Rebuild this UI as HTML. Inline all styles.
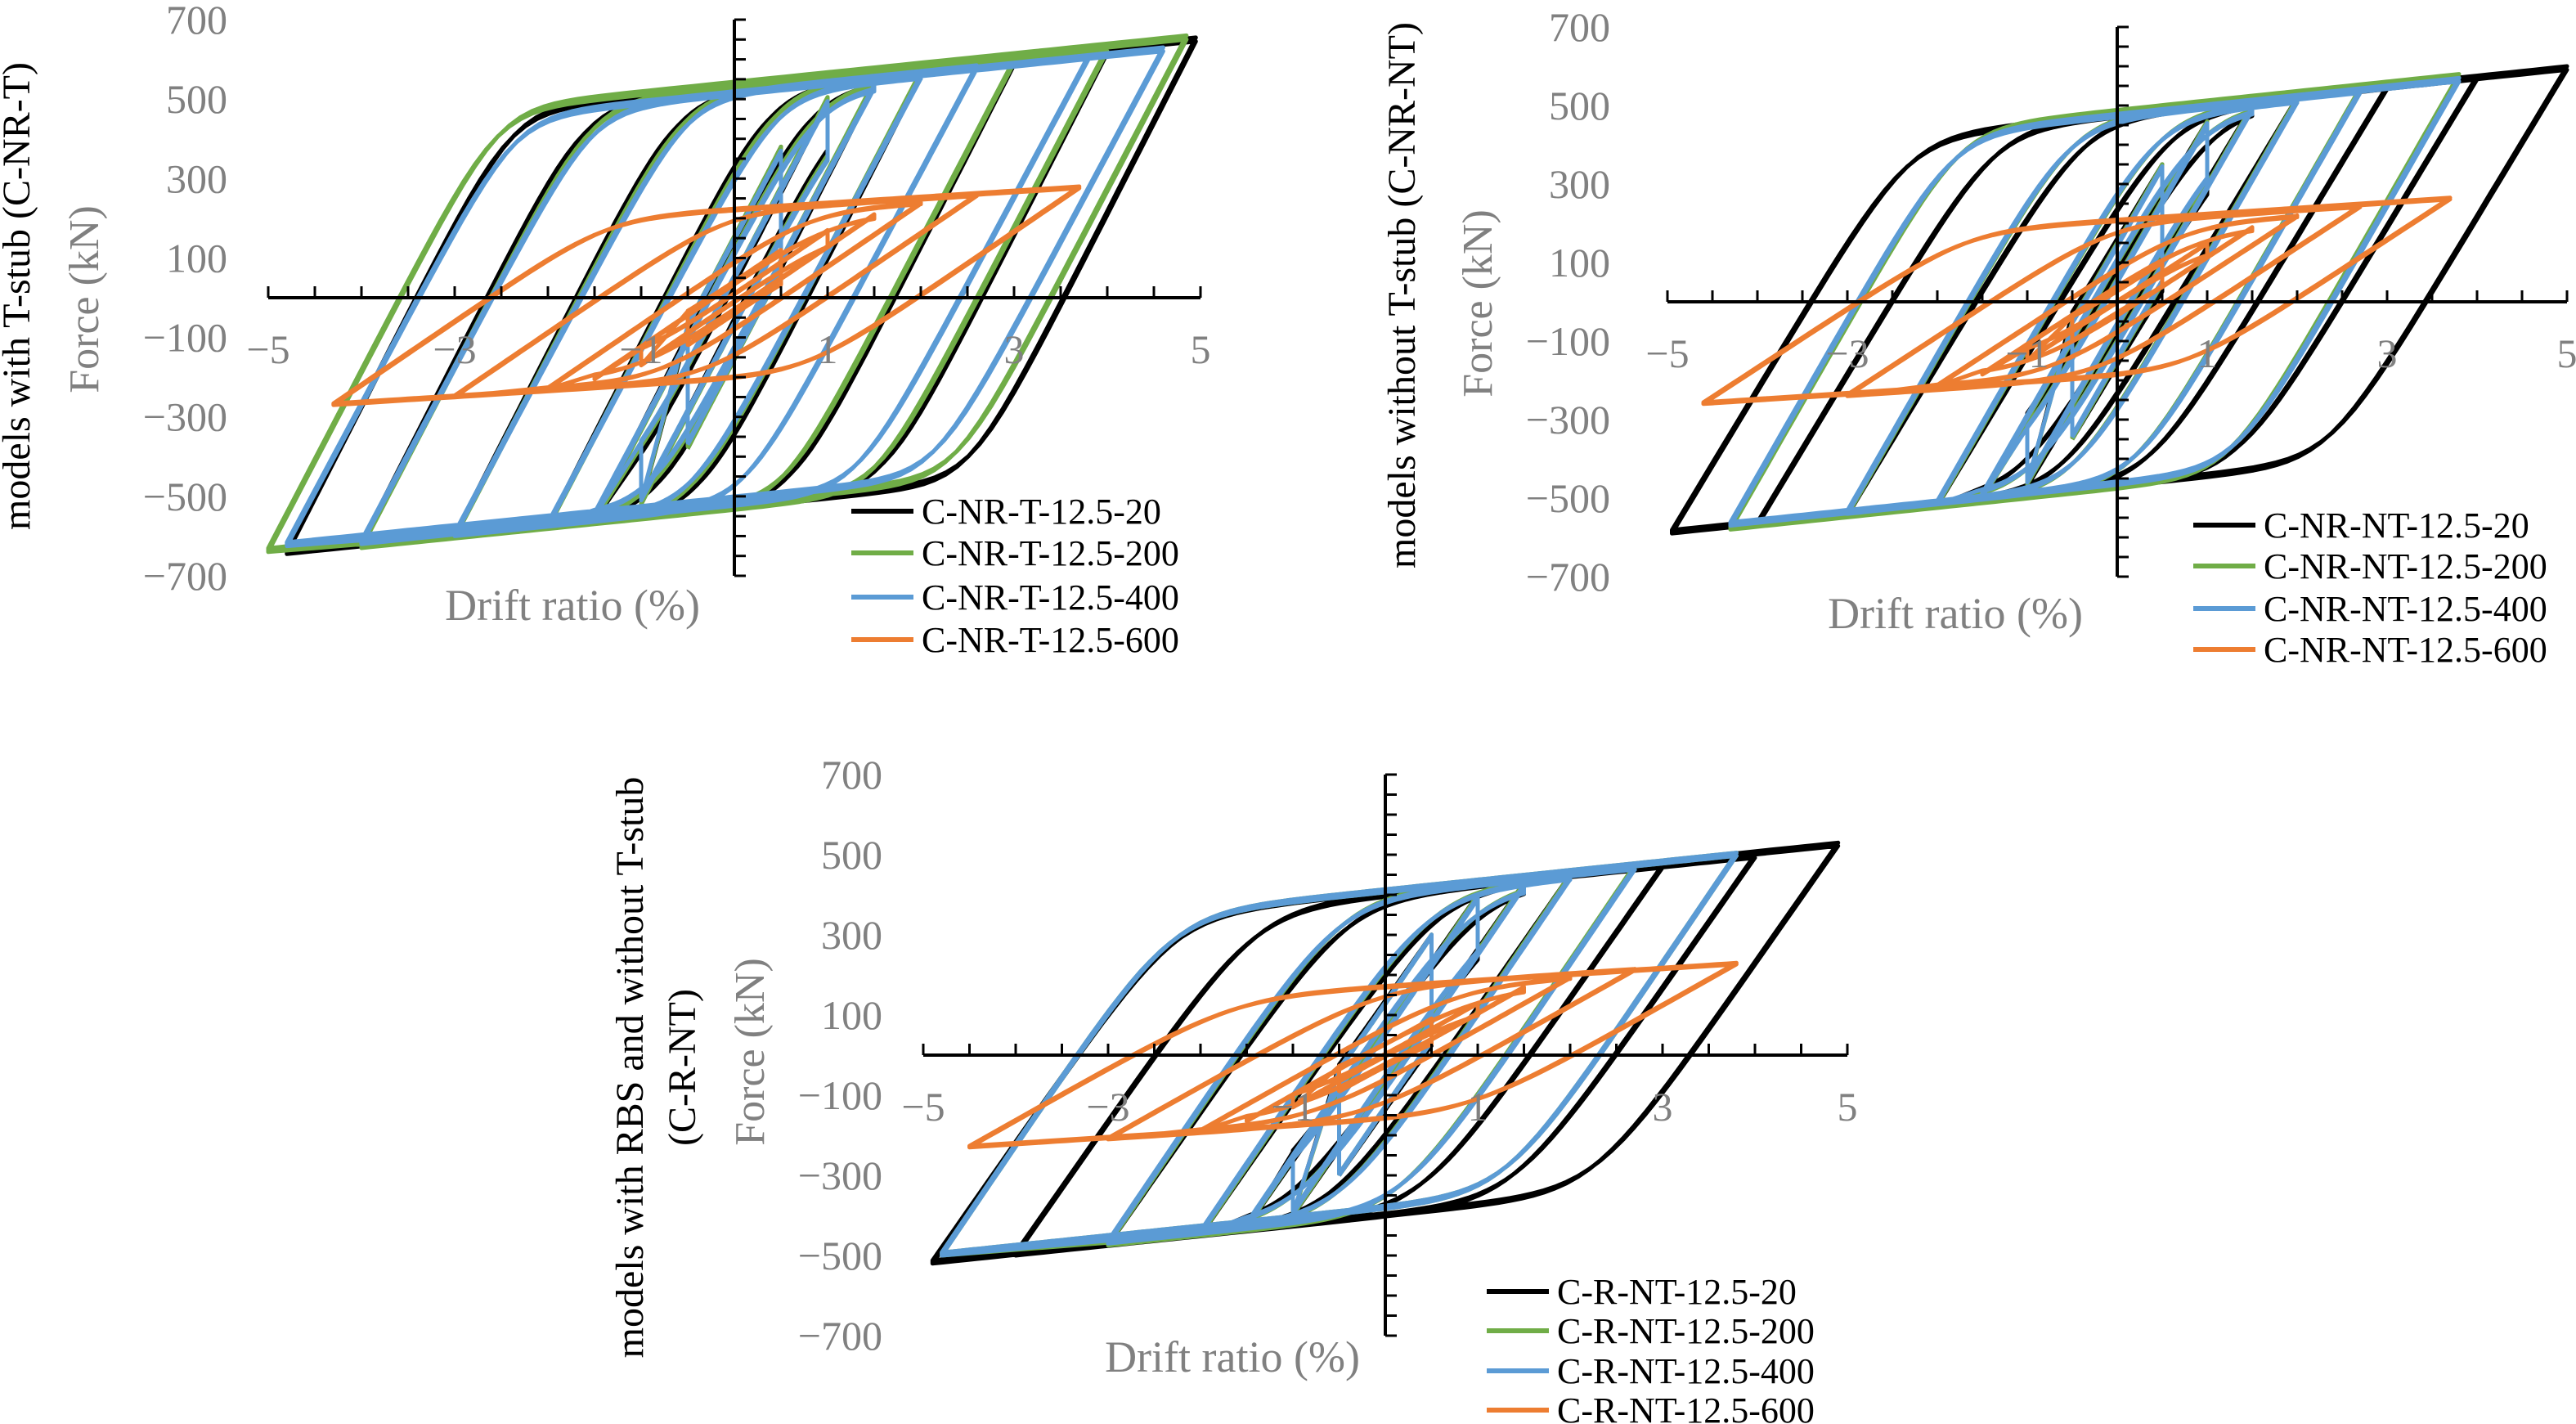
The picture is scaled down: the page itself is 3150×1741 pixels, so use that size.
<!DOCTYPE html>
<html><head><meta charset="utf-8">
<style>
html,body{margin:0;padding:0;background:#fff;}
svg{display:block;}
text{font-family:"Liberation Serif",serif;}
</style></head>
<body>
<svg id="fig" width="3150" height="1741" viewBox="0 0 3150 1741" xmlns="http://www.w3.org/2000/svg"></svg>
<script>
// ---------- data (drift %, force kN) ----------
const xTicks = [-5, -3, -1, 1, 3, 5];
const yTicks = [700, 500, 300, 100, -100, -300, -500, -700];

const c1Names = ["C-NR-T-12.5-20", "C-NR-T-12.5-200", "C-NR-T-12.5-400", "C-NR-T-12.5-600"];
const c1AmpPos = [[0.5,1,1.5,2,3,4,4.95],[0.5,1,1.5,2,3,4,4.85],[0.5,1,1.5,2,2.6,3.8,4.6],[0.5,1,1.5,2,2.6,3.7]];
const c1AmpNeg = [[0.5,1,1.5,2,3,4,4.8],[0.5,1,1.5,2,3,4,5],[0.5,1,1.5,2,3,4,4.8],[0.5,1,1.5,2,3,4.3]];
const c1ForPos = [[380,500,540,565,595,625,655],[380,505,545,570,600,630,660],[370,495,535,560,585,610,630],[120,170,210,240,260,280]];
const c1ForNeg = [[380,520,560,580,605,625,645],[380,520,560,580,605,630,640],[370,510,550,575,600,620,625],[120,170,205,230,250,270]];
const c1Stiff = [460, 450, 440, 160];

const c2Names = ["C-NR-NT-12.5-20", "C-NR-NT-12.5-200", "C-NR-NT-12.5-400", "C-NR-NT-12.5-600"];
const c2AmpPos = [[0.5,1,1.5,2,3,4,5],[0.5,1,1.5,2,2.7,3.8],[0.5,1,1.5,2,2.7,3.8],[0.5,1,1.5,2,2.7,3.7]];
const c2AmpNeg = [[0.5,1,1.5,2,3,4,4.95],[0.5,1,1.5,2,3,4.3],[0.5,1,1.5,2,3,4.3],[0.5,1,1.5,2,3,4.6]];
const c2ForPos = [[350,460,500,520,550,575,600],[350,460,500,520,545,580],[345,455,495,515,540,570],[100,150,190,220,245,265]];
const c2ForNeg = [[350,470,500,520,545,570,590],[350,465,500,520,545,580],[345,460,495,515,540,570],[100,150,185,215,240,260]];
const c2Stiff = [380, 400, 400, 150];

const c3Names = ["C-R-NT-12.5-20", "C-R-NT-12.5-200", "C-R-NT-12.5-400", "C-R-NT-12.5-600"];
const c3AmpPos = [[0.5,1,1.5,2,3,4,4.9],[0.5,1,1.5,2,2.7,3.8],[0.5,1,1.5,2,2.7,3.8],[0.5,1,1.5,2,2.7,3.8]];
const c3AmpNeg = [[0.5,1,1.5,2,3,4,4.9],[0.5,1,1.5,2,3,4.8],[0.5,1,1.5,2,3,4.8],[0.5,1,1.5,2,3,4.5]];
const c3ForPos = [[300,400,430,450,475,500,530],[300,400,430,450,475,505],[300,395,425,445,470,505],[90,130,170,195,215,230]];
const c3ForNeg = [[300,400,430,450,475,500,520],[300,400,430,450,475,500],[300,395,425,445,470,500],[90,130,165,190,210,230]];
const c3Stiff = [330, 340, 340, 130];

const colors = ["#000000", "#70ad47", "#5b9bd5", "#ed7d31"];
const NS = "http://www.w3.org/2000/svg";
const svg = document.getElementById("fig");

function mk(tag, attrs, parent){
  const e = document.createElementNS(NS, tag);
  for (const k in attrs) e.setAttribute(k, attrs[k]);
  (parent||svg).appendChild(e);
  return e;
}
function smin(a,b,s){const m=Math.min(a,b);return m - s*Math.log(1+Math.exp(-Math.abs(a-b)/s));}
function smax(a,b,s){return -smin(-a,-b,s);}

function drawChart(cfg, names, ampP, ampN, forP, forN, stiff){
  const g = mk("g", {});
  
  
  const X = v => cfg.xc + v * cfg.xs;
  const Y = v => cfg.yc - v * cfg.ys;
  for (let si = 0; si < names.length; si++){
    let d = "";
    const K = stiff[si], h = si === 3 ? 15 : 24, s = si === 3 ? 45 : 100;
    for (let i = 0; i < ampP[si].length; i++){
      for (let c = 0; c < 2; c++){
        const f = c ? 0.985 : 1;
        const dp = ampP[si][i], dn = ampN[si][i], Fp = forP[si][i]*f, Fn = forN[si][i]*f;
        const N = 80;
        for (let k = 0; k <= N; k++){
          const x = -dn + (dp + dn) * k / N;
          const F = smin(-Fn + K*(x + dn), Fp - h*(dp - x), s);
          d += (d === "" ? "M" : "L") + X(x).toFixed(1) + "," + Y(F).toFixed(1);
        }
        for (let k = 0; k <= N; k++){
          const x = dp - (dp + dn) * k / N;
          const F = smax(Fp - K*(dp - x), -Fn + h*(x + dn), s);
          d += "L" + X(x).toFixed(1) + "," + Y(F).toFixed(1);
        }
      }
    }
    const p = mk("path", {d: d, fill: "none", stroke: colors[si], "stroke-width": 5, "stroke-linejoin": "round"}, g);
    
    
  }
  const ax = mk("line", {x1: X(-5), x2: X(5), y1: Y(0), y2: Y(0), stroke: "#000", "stroke-width": 4}, g);
  
  
  const ay = mk("line", {x1: X(0), x2: X(0), y1: Y(700), y2: Y(-700), stroke: "#000", "stroke-width": 4}, g);
  
  
  for (let v = -5; v <= 5.001; v += 0.5){
    mk("line", {x1: X(v), x2: X(v), y1: Y(0), y2: Y(0) - 14, stroke: "#000", "stroke-width": 3}, g);
  }
  for (let v = -700; v <= 700; v += 50){
    mk("line", {x1: X(0), x2: X(0) + 14, y1: Y(v), y2: Y(v), stroke: "#000", "stroke-width": 3}, g);
  }
  for (const t of xTicks){
    const tx = mk("text", {x: X(t), y: Y(0) + 80, "font-size": 50, fill: "#808080", "text-anchor": "middle"}, g);
    tx.textContent = t < 0 ? "\u2212" + Math.abs(t) : String(t);
    
    
  }
  for (const t of yTicks){
    const ty = mk("text", {x: cfg.ylx, y: Y(t) + 17, "font-size": 50, fill: "#808080", "text-anchor": "end"}, g);
    ty.textContent = t < 0 ? "\u2212" + Math.abs(t) : String(t);
    
    
  }
  const yt = mk("text", {x: 0, y: 0, "font-size": 52, fill: "#808080", "text-anchor": "middle", transform: `translate(${cfg.fx},${cfg.fy}) rotate(-90)`}, g);
  yt.textContent = "Force (kN)";
  
  
  const xt = mk("text", {x: cfg.dx, y: cfg.dy, "font-size": 54, fill: "#808080", "text-anchor": "middle"}, g);
  xt.textContent = "Drift ratio (%)";
  
  
  cfg.outer.forEach((ln, i) => {
    const ot = mk("text", {x: 0, y: 0, "font-size": 48, fill: "#000", "text-anchor": "middle", transform: `translate(${cfg.ox[i]},${cfg.oy}) rotate(-90)`}, g);
    ot.textContent = ln;
    
    
  });
  names.forEach((n, i) => {
    const ry = cfg.lrows[i];
    const ll = mk("line", {x1: cfg.lx, x2: cfg.lx + 76, y1: ry, y2: ry, stroke: colors[i], "stroke-width": 6}, g);
    
    
    const lt = mk("text", {x: cfg.lx + 86, y: ry + 15, "font-size": 44, fill: "#000"}, g);
    lt.textContent = n;
    
    
  });
}

drawChart({name: "chart-c-nr-t", xc: 898, xs: 114, yc: 364, ys: 0.4857, ylx: 278,
  fx: 120, fy: 366, dx: 700, dy: 758, outer: ["models with T-stub (C-NR-T)"], ox: [36], oy: 362,
  lx: 1041, lrows: [625, 676, 730, 782]},
  c1Names, c1AmpPos, c1AmpNeg, c1ForPos, c1ForNeg, c1Stiff);

drawChart({name: "chart-c-nr-nt", xc: 2589, xs: 110, yc: 369, ys: 0.48, ylx: 1969,
  fx: 1824, fy: 371, dx: 2391, dy: 768, outer: ["models without T-stub (C-NR-NT)"], ox: [1730], oy: 361,
  lx: 2682, lrows: [642, 692, 744, 794]},
  c2Names, c2AmpPos, c2AmpNeg, c2ForPos, c2ForNeg, c2Stiff);

drawChart({name: "chart-c-r-nt", xc: 1694, xs: 113, yc: 1290, ys: 0.49, ylx: 1079,
  fx: 934, fy: 1286, dx: 1507, dy: 1677, outer: ["models with RBS and without T-stub", "(C-R-NT)"], ox: [786, 850], oy: 1305,
  lx: 1818, lrows: [1579, 1627, 1676, 1724]},
  c3Names, c3AmpPos, c3AmpNeg, c3ForPos, c3ForNeg, c3Stiff);
</script>
</body></html>
